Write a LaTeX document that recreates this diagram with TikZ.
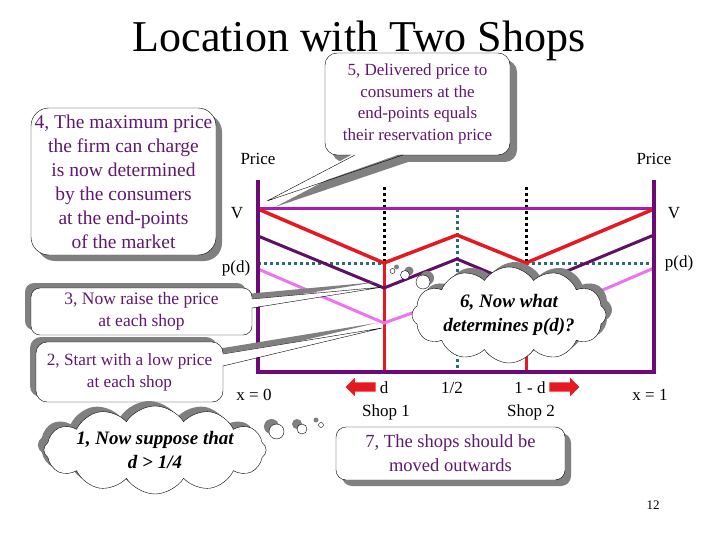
\documentclass[tikz,border=0pt]{standalone}
\usepackage{fontspec}
\setmainfont{Liberation Serif}
\usetikzlibrary{shapes.symbols,shapes.arrows,shadows}

\definecolor{axispurple}{RGB}{110,10,120}
\definecolor{vpurple}{RGB}{165,30,175}
\definecolor{pricered}{RGB}{230,25,35}
\definecolor{darkplum}{RGB}{95,15,100}
\definecolor{lowpink}{RGB}{238,115,238}
\definecolor{dotteal}{RGB}{40,110,110}
\definecolor{notetext}{RGB}{96,24,112}
\definecolor{shadowgray}{RGB}{128,128,128}

\begin{document}
\begin{tikzpicture}[x=1pt, y=-1pt,
    every node/.style={font=\fontsize{17}{20}\selectfont, inner sep=0pt},
    castshadow/.style 2 args={drop shadow={shadow xshift=#1, shadow yshift=#2, fill=shadowgray, opacity=1}},
    note/.style={draw, fill=white, rounded corners=12pt, align=center, text=notetext},
    thought/.style={cloud, cloud puffs=12, cloud puff arc=115, cloud ignores aspect, draw, fill=white,
                    align=center, font=\fontsize{19}{24}\selectfont\bfseries\itshape},
    bubble/.style={circle, draw, fill=white},
    blockarrow/.style={single arrow, fill=pricered, inner xsep=0pt, inner ysep=4.5pt,
                       minimum height=30pt, single arrow head extend=4.5pt},
    dots/.style={line width=3pt, dash pattern=on 3pt off 3pt},
    curve/.style={line width=3pt, line join=miter}]

  \useasboundingbox (0,0) rectangle (720,540);
  \fill[white] (0,0) rectangle (720,540);

  \node (title) [anchor=base, font=\fontsize{44}{50}\selectfont] at (359,52) {Location with Two Shops};

  % the market and the price schedules
  \draw[dots, dotteal] (258,263) -- (384,263) (526,263) -- (654,263) (457,209) -- (457,372);
  \draw[dots, black] (384,187) -- (384,263) (526,187) -- (526,263);
  \draw[pricered, line width=3pt] (384,263) -- (384,372) (526,263) -- (526,372);
  \draw[curve, lowpink] (258,269) -- (384,323) -- (457,297) -- (526,323) -- (654,268);
  \draw[curve, darkplum] (258,236) -- (384,288) -- (457,259) -- (526,288) -- (654,235);
  \draw[curve, vpurple] (258,209) -- (654,209);
  \draw[curve, pricered, line width=3.5pt] (258,209) -- (384,263) -- (457,235) -- (526,263) -- (654,209);
  \draw[axispurple, line width=4.5pt] (258,180) -- (258,372) -- (654,372) -- (654,180);

  \node (pricel) at (258,159) {Price};
  \node (pricer) at (654,159) {Price};
  \node (vl)     at (237,213) {V};
  \node (vr)     at (674,213) {V};
  \node (pdl)    at (236,268) {p(d)};
  \node (pdr)    at (679,263) {p(d)};
  \node (x0)     at (254,395) {x = 0};
  \node (x1)     at (650,395) {x = 1};
  \node (dpos)   at (384,388) {d};
  \node (half)   at (452,388) {1/2};
  \node (dpos2)  at (530,388) {1 - d};
  \node (shop1)  at (386,412) {Shop 1};
  \node (shop2)  at (531,412) {Shop 2};
  \node (page) [font=\fontsize{13}{15}\selectfont] at (653,505) {12};

  \node (outl) [blockarrow, shape border rotate=180] at (363,387) {};
  \node (outr) [blockarrow] at (562,387) {};

  % callout 5
  \coordinate (tip5) at (267,201);
  \coordinate (b5a) at (355,155);
  \coordinate (b5b) at (403,155);
  \fill[shadowgray] ([shift={(8,6)}]b5a) -- ([shift={(8,6)}]tip5) -- ([shift={(8,6)}]b5b) -- cycle;
  \node (n5) [note, castshadow={7pt}{-7pt}, minimum width=185pt, minimum height=102pt,
              font=\fontsize{17}{21.7}\selectfont] at (417.5,104)
             {5, Delivered price to\\consumers at the\\end-points equals\\their reservation price};
  \fill[white] ([yshift=2pt]b5a) -- (tip5) -- ([yshift=2pt]b5b) -- cycle;
  \draw (b5a) -- (tip5) -- (b5b);

  % callout 4
  \node (n4) [note, castshadow={6pt}{-6pt}, rounded corners=18pt, minimum width=185pt, minimum height=147pt,
              font=\fontsize{19.5}{24}\selectfont] at (123.5,181.5)
             {4, The maximum price\\the firm can charge\\is now determined\\by the consumers\\at the end-points\\of the market};

  % callout 3
  \coordinate (tip3) at (383,287);
  \coordinate (b3a) at (252,299);
  \coordinate (b3b) at (252,308);
  \fill[shadowgray] ([shift={(-6,-5)}]b3a) -- ([shift={(-6,-5)}]tip3) -- ([shift={(-6,-5)}]b3b) -- cycle;
  \node (n3) [note, castshadow={-6pt}{5pt}, rounded corners=9pt, minimum width=221pt, minimum height=47pt,
              font=\fontsize{17.5}{22}\selectfont] at (141.5,311.5)
             {3, Now raise the price\\at each shop};
  \fill[white] ([xshift=-2pt]b3a) -- (tip3) -- ([xshift=-2pt]b3b) -- cycle;
  \draw (b3a) -- (tip3) -- (b3b);

  % callout 2
  \coordinate (tip2) at (382,328);
  \coordinate (b2a) at (223,354);
  \coordinate (b2b) at (223,366);
  \fill[shadowgray] ([shift={(-6,-5)}]b2a) -- ([shift={(-6,-5)}]tip2) -- ([shift={(-6,-5)}]b2b) -- cycle;
  \node (n2) [note, castshadow={-6pt}{5pt}, rounded corners=11pt, minimum width=187pt, minimum height=60pt,
              font=\fontsize{17.2}{22}\selectfont] at (129.5,372)
             {2, Start with a low price\\at each shop};
  \fill[white] ([xshift=-2pt]b2a) -- (tip2) -- ([xshift=-2pt]b2b) -- cycle;
  \draw (b2a) -- (tip2) -- (b2b);

  % thought 6
  \node (n6) [thought, castshadow={6pt}{5pt}, minimum width=194pt, minimum height=96pt] at (509,315)
             {6, Now what\\determines p(d)?};
  \node (s6a) [bubble, castshadow={4pt}{4pt}, minimum size=14pt] at (423,282) {};
  \node (s6b) [bubble, castshadow={4pt}{4pt}, minimum size=9pt]  at (405,275) {};
  \node (s6c) [bubble, castshadow={4pt}{4pt}, minimum size=5pt]  at (392.5,271) {};

  % thought 1
  \node (n1) [thought, castshadow={-6pt}{5pt}, minimum width=218pt, minimum height=88pt] at (155,450)
             {1, Now suppose that\\d > 1/4};
  \node (s1a) [bubble, castshadow={-5pt}{5pt}, minimum size=15pt] at (276.5,431.5) {};
  \node (s1b) [bubble, castshadow={-5pt}{5pt}, minimum size=10pt] at (302,429) {};
  \node (s1c) [bubble, castshadow={-5pt}{5pt}, minimum size=5pt]  at (321,425) {};

  % box 7
  \node (n7) [note, castshadow={6pt}{-6pt}, rounded corners=10pt, minimum width=229pt, minimum height=53pt,
              font=\fontsize{18.5}{24}\selectfont] at (450.5,453.5)
             {7, The shops should be\\moved outwards};
\end{tikzpicture}
\end{document}
